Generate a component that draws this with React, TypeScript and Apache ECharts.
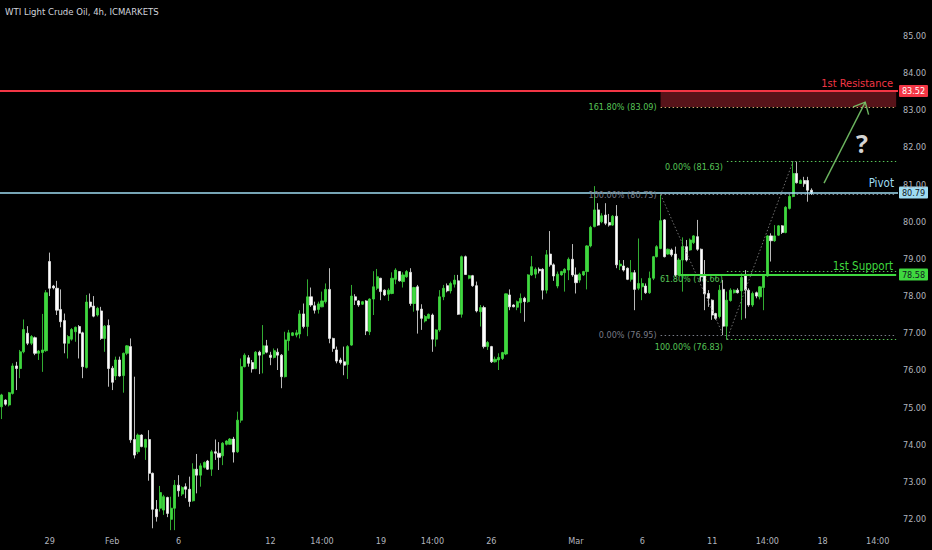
import { useEffect, useRef } from 'react';
import * as echarts from 'echarts';

// one row per 4h bar: [open, close, low, high]
const candles: number[][] = [
  [75.02, 75.34, 74.69, 75.37], [75.20, 75.09, 75.05, 75.22], [75.07, 75.40, 75.03, 75.42], [75.38, 76.12, 75.35, 76.19],
  [76.12, 76.05, 75.47, 76.23], [76.05, 76.50, 75.79, 76.55], [76.50, 77.10, 76.46, 77.37], [77.00, 76.73, 76.68, 77.19],
  [76.73, 76.91, 76.68, 76.95], [76.88, 76.46, 76.41, 76.91], [76.46, 76.52, 76.28, 76.55], [76.48, 76.55, 75.96, 77.52],
  [76.53, 78.09, 76.50, 78.16], [78.93, 78.21, 78.00, 79.17], [78.27, 78.22, 78.18, 78.30], [78.21, 77.62, 77.49, 78.41],
  [77.64, 77.31, 77.16, 78.18], [77.34, 76.73, 76.46, 77.53], [76.73, 76.91, 76.32, 76.95], [76.84, 77.10, 76.80, 77.14],
  [77.04, 77.16, 76.77, 77.18], [77.18, 77.00, 76.32, 77.22], [77.01, 76.10, 75.79, 77.04], [76.08, 77.84, 76.05, 78.03],
  [77.84, 77.71, 77.67, 78.07], [77.73, 77.46, 77.43, 78.00], [77.49, 77.67, 77.45, 77.71], [77.60, 76.86, 76.82, 77.71],
  [76.86, 77.19, 76.50, 77.22], [77.21, 76.05, 75.56, 77.37], [76.06, 75.68, 75.47, 76.12], [75.85, 76.28, 75.74, 76.37],
  [76.28, 75.85, 75.83, 76.37], [75.86, 76.46, 75.40, 76.48], [76.46, 76.66, 76.41, 76.68], [76.64, 74.13, 74.05, 76.86],
  [74.14, 73.72, 73.63, 75.83], [73.81, 74.26, 73.75, 74.30], [74.26, 73.95, 73.93, 74.28], [73.93, 74.14, 73.59, 74.16],
  [74.14, 73.23, 73.03, 74.39], [73.23, 72.26, 71.75, 73.25], [72.26, 72.06, 71.93, 72.51], [72.29, 72.71, 72.20, 72.89],
  [72.24, 72.60, 72.11, 72.65], [72.58, 72.15, 72.05, 72.60], [71.99, 72.29, 71.70, 72.60], [72.29, 72.91, 71.70, 73.05],
  [72.91, 72.76, 72.60, 73.18], [72.67, 72.85, 72.62, 72.88], [72.87, 72.80, 72.56, 72.96], [72.80, 72.47, 72.33, 73.14],
  [72.49, 73.34, 72.47, 73.50], [73.34, 73.18, 72.69, 73.75], [73.18, 73.43, 72.87, 73.50], [73.39, 73.52, 73.36, 73.55],
  [73.56, 73.34, 73.32, 73.59], [73.34, 73.81, 73.16, 73.86], [73.81, 73.77, 73.59, 74.14], [73.77, 73.66, 73.32, 74.07],
  [73.70, 74.04, 73.45, 74.07], [74.01, 74.10, 73.98, 74.12], [74.01, 74.15, 74.00, 74.18], [74.15, 73.80, 73.52, 74.21],
  [73.81, 74.66, 73.78, 74.89], [74.66, 76.10, 74.59, 76.32], [76.10, 76.41, 76.08, 76.46], [76.34, 76.19, 76.10, 76.41],
  [76.21, 76.04, 75.94, 76.28], [76.05, 76.49, 76.03, 76.52], [76.49, 76.41, 75.90, 76.53], [76.44, 76.66, 75.92, 77.22],
  [76.66, 76.49, 76.46, 76.82], [76.41, 76.35, 76.14, 76.50], [76.35, 76.53, 76.32, 76.59], [76.49, 76.41, 76.01, 76.59],
  [76.41, 75.83, 75.52, 76.44], [75.83, 76.82, 75.81, 77.04], [76.80, 77.01, 76.53, 77.09], [76.94, 77.01, 76.92, 77.03],
  [76.95, 77.01, 76.89, 77.09], [76.98, 77.52, 76.86, 77.62], [77.52, 77.18, 77.13, 77.80], [77.18, 77.98, 76.92, 78.45],
  [77.98, 77.76, 77.71, 78.23], [77.74, 77.62, 77.53, 77.85], [77.64, 77.79, 77.53, 77.85], [77.71, 77.87, 77.70, 78.12],
  [77.85, 78.18, 77.80, 78.34], [78.18, 76.86, 76.73, 78.75], [76.86, 76.59, 76.50, 76.88], [76.55, 76.25, 76.19, 76.64],
  [76.28, 76.21, 76.16, 76.34], [76.23, 76.14, 75.87, 76.64], [76.16, 76.64, 75.77, 76.68], [76.68, 78.00, 76.66, 78.30],
  [77.98, 77.89, 77.76, 78.05], [77.87, 77.76, 77.71, 77.89], [77.78, 77.85, 77.76, 77.87], [77.87, 77.06, 76.95, 77.89],
  [77.04, 77.92, 76.95, 77.94], [77.92, 78.25, 77.49, 78.67], [78.21, 78.52, 78.16, 78.73], [78.48, 78.12, 77.89, 78.49],
  [78.16, 78.03, 78.00, 78.18], [78.05, 78.16, 77.87, 78.21], [78.07, 78.48, 78.05, 78.64], [78.45, 78.70, 78.32, 78.75],
  [78.66, 78.41, 78.39, 78.67], [78.39, 78.57, 78.23, 78.64], [78.52, 78.66, 78.49, 78.70], [78.64, 77.80, 77.74, 78.75],
  [77.80, 78.23, 77.58, 78.25], [78.25, 77.62, 76.99, 78.30], [77.65, 77.40, 77.09, 77.78], [77.33, 77.45, 77.29, 77.49],
  [77.40, 77.51, 77.38, 77.53], [77.49, 76.84, 76.50, 77.53], [76.84, 77.09, 76.64, 77.11], [77.09, 77.98, 77.04, 78.16],
  [77.98, 78.21, 77.89, 78.30], [78.28, 78.14, 78.10, 78.34], [78.14, 78.34, 78.07, 78.39], [78.32, 78.43, 78.23, 78.57],
  [78.41, 77.51, 77.49, 78.57], [77.51, 79.06, 77.42, 79.09], [79.06, 78.58, 78.57, 79.09], [78.48, 78.55, 78.45, 78.57],
  [78.55, 78.28, 78.25, 78.57], [78.28, 77.60, 77.56, 78.39], [77.58, 77.69, 77.18, 77.76], [77.69, 76.64, 76.59, 77.74],
  [76.64, 76.75, 76.55, 76.79], [76.64, 76.23, 76.20, 76.66], [76.23, 76.30, 76.21, 76.37], [76.28, 76.35, 76.01, 76.46],
  [76.32, 76.48, 76.28, 76.50], [76.44, 78.06, 76.41, 78.07], [78.03, 77.71, 77.62, 78.18], [77.76, 77.71, 77.70, 77.78],
  [77.70, 77.85, 77.62, 77.88], [77.82, 77.94, 77.54, 78.07], [77.94, 77.85, 77.31, 77.98], [77.85, 78.57, 77.82, 78.59],
  [78.57, 78.79, 78.54, 79.08], [78.59, 78.72, 78.48, 78.77], [78.72, 78.68, 78.61, 78.77], [78.72, 78.16, 77.91, 78.75],
  [78.16, 79.11, 78.07, 79.24], [79.13, 78.84, 78.79, 79.75], [78.84, 78.54, 78.41, 78.88], [78.27, 78.59, 78.21, 78.66],
  [78.57, 78.66, 78.55, 78.68], [78.63, 78.72, 78.12, 78.75], [78.70, 78.99, 78.43, 79.04], [78.99, 78.57, 78.52, 79.40],
  [78.57, 78.36, 78.07, 78.77], [78.43, 78.59, 78.36, 78.63], [78.57, 78.66, 78.54, 78.68], [78.66, 79.35, 78.18, 79.37],
  [79.35, 79.85, 79.31, 79.89], [79.87, 80.32, 79.85, 80.96], [80.32, 79.91, 79.89, 80.50], [80.00, 80.16, 79.96, 80.23],
  [80.18, 79.96, 79.91, 80.50], [79.98, 79.91, 79.87, 80.21], [79.91, 80.15, 79.89, 80.18], [80.15, 78.84, 78.75, 80.45],
  [78.81, 78.86, 78.70, 78.97], [78.81, 78.70, 78.66, 78.97], [78.75, 78.45, 78.43, 78.77], [78.45, 78.63, 78.39, 78.97],
  [78.63, 78.18, 77.62, 78.70], [78.21, 78.34, 78.16, 79.55], [78.25, 78.34, 77.89, 78.48], [78.27, 78.09, 78.06, 78.34],
  [78.09, 78.48, 78.06, 78.66], [78.48, 79.06, 78.43, 79.08], [79.06, 79.33, 79.04, 79.37], [79.28, 80.03, 79.26, 80.73],
  [80.05, 79.06, 79.04, 80.07], [79.13, 79.26, 79.11, 79.28], [79.24, 79.11, 79.06, 79.28], [79.13, 78.57, 78.52, 79.33],
  [78.57, 78.97, 78.54, 79.02], [78.97, 79.33, 78.12, 79.58], [79.33, 78.97, 78.93, 79.51], [79.24, 79.51, 79.22, 79.55],
  [79.44, 79.62, 79.40, 79.64], [79.60, 79.26, 79.22, 80.05], [79.26, 78.52, 78.39, 79.28], [78.54, 78.06, 77.62, 78.97],
  [78.07, 77.94, 77.71, 78.16], [77.89, 77.49, 77.36, 77.91], [77.53, 77.40, 77.36, 77.55], [77.45, 78.16, 77.40, 78.30],
  [78.18, 77.19, 76.95, 78.43], [77.19, 77.89, 76.83, 78.12], [77.88, 78.16, 77.85, 78.21], [78.09, 78.16, 78.07, 78.18],
  [78.16, 78.09, 78.07, 78.21], [78.14, 78.50, 77.36, 78.61], [78.54, 78.16, 77.40, 78.70], [78.16, 77.76, 77.71, 78.21],
  [77.76, 78.07, 77.71, 78.12], [78.09, 78.00, 77.94, 78.12], [77.98, 78.25, 77.91, 78.27], [78.23, 78.54, 77.62, 78.57],
  [78.54, 79.62, 78.52, 79.64], [79.62, 79.49, 78.93, 79.69], [79.49, 79.62, 79.46, 79.91], [79.64, 79.89, 79.62, 79.91],
  [79.89, 79.71, 79.67, 79.91], [79.71, 80.39, 79.69, 80.42], [80.36, 80.68, 80.33, 80.72], [80.68, 81.30, 80.66, 81.63],
  [81.30, 81.05, 81.03, 81.62], [81.03, 81.11, 81.02, 81.14], [81.11, 81.02, 80.94, 81.21], [81.11, 80.85, 80.54, 81.21],
  [80.85, 80.76, 80.72, 80.90],
];

// bars + empty room on the right
const slotCount = 244;

const tickLabels: [number, string][] = [
  [13, '29'], [30, 'Feb'], [48, '6'], [73, '12'], [87, '14:00'], [103, '19'], [117, '14:00'],
  [133, '26'], [156, 'Mar'], [174, '6'], [193, '11'], [208, '14:00'], [223, '18'], [238, '14:00'],
];

const resistance = 83.52;
const pivot = 80.79;
const support = 78.58;
const supportStart = 184;

// first fib: swing high -> swing low, with its 161.8% extension
const fibAStart = 179;
const fibAEnd = 196;
const fibALevels: [string, number][] = [['100.00%', 80.73], ['0.00%', 76.95], ['161.80%', 83.09]];

// second fib: swing low -> latest high
const fibBStart = 197;
const fibBEnd = 215;
const fibBLevels: [string, number][] = [['0.00%', 81.63], ['61.80%', 78.66], ['100.00%', 76.83]];

const arrowPath: number[][] = [[223.4, 81.04], [234.6, 83.22]];
const questionAt = [233.7, 82.12];

const RED = '#f23645';
const BLUE = '#9fdcf2';
const GREEN = '#3fd83f';
const FIB_GREEN = '#57c457';
const GREY = '#787b86';
const FONT = '"Liberation Sans Narrow", "DejaVu Sans Condensed", sans-serif';

export default function App() {
  const ref = useRef<HTMLDivElement>(null);

  useEffect(() => {
    document.body.style.margin = '0';
    document.body.style.background = '#000';
    if (!ref.current) return;
    const chart = echarts.init(ref.current, null, { renderer: 'svg' });

    const tickMap: Record<number, string> = {};
    tickLabels.forEach(([i, t]) => (tickMap[i] = t));
    const last = slotCount - 1;

    const dotted = (color: string) => ({ color, width: 1, type: [1.5, 2.5] as number[] });
    const seg = (x0: number, y0: number, x1: number, y1: number, lineStyle: any) => [
      { coord: [x0, y0], lineStyle },
      { coord: [x1, y1] },
    ];

    chart.setOption({
      animation: false,
      backgroundColor: '#000',
      grid: { left: 0, right: 34, top: 36, bottom: 31 },
      xAxis: {
        type: 'category',
        data: Array.from({ length: slotCount }, (_, i) => String(i)),
        axisLine: { show: false },
        axisTick: { show: false },
        splitLine: { show: false },
        axisLabel: {
          interval: (i: number) => tickMap[i] !== undefined,
          formatter: (_v: string, i: number) => tickMap[i] ?? '',
          color: '#b2b5be',
          fontSize: 9,
          fontFamily: FONT,
          margin: 17,
        },
      },
      yAxis: {
        type: 'value',
        position: 'right',
        min: 72,
        max: 85,
        interval: 1,
        axisLine: { show: false },
        axisTick: { show: false },
        splitLine: { show: false },
        axisLabel: {
          formatter: (v: number) => v.toFixed(2),
          color: '#b2b5be',
          fontSize: 9,
          fontFamily: FONT,
          margin: 5,
        },
      },
      series: [
        {
          type: 'candlestick',
          data: candles,
          clip: false,
          barWidth: 2.6,
          itemStyle: {
            color: GREEN,
            color0: '#ffffff',
            borderColor: GREEN,
            borderColor0: '#e8e8e8',
            borderWidth: 0.8,
          },
          markArea: {
            silent: true,
            itemStyle: { color: 'rgba(242, 54, 69, 0.36)' },
            data: [[{ coord: [fibAStart, resistance] }, { coord: [last, fibALevels[2][1]] }]],
          },
          markLine: {
            silent: true,
            symbol: ['none', 'none'],
            label: { show: false },
            emphasis: { disabled: true },
            data: [
              { yAxis: resistance, lineStyle: { color: RED, width: 1.8, type: 'solid' } },
              { yAxis: pivot, lineStyle: { color: BLUE, width: 1.6, type: 'solid' } },
              seg(supportStart, support, last, support, { color: GREEN, width: 2.2, type: 'solid' }),
              seg(fibAStart, fibALevels[0][1], last, fibALevels[0][1], dotted(GREY)),
              seg(fibAStart, fibALevels[1][1], last, fibALevels[1][1], dotted(GREY)),
              seg(fibAStart, fibALevels[2][1], last, fibALevels[2][1], dotted('#d0a870')),
              seg(fibBStart, fibBLevels[0][1], last, fibBLevels[0][1], dotted(FIB_GREEN)),
              seg(fibBStart, fibBLevels[1][1], last, fibBLevels[1][1], dotted(FIB_GREEN)),
              seg(fibBStart, fibBLevels[2][1], last, fibBLevels[2][1], dotted(FIB_GREEN)),
              seg(fibAStart, fibALevels[0][1], fibAEnd, fibALevels[1][1], { color: '#8a8a8a', width: 0.8, type: [1.5, 2] }),
              seg(fibBStart, fibBLevels[2][1], fibBEnd, fibBLevels[0][1], { color: '#8a8a8a', width: 0.8, type: [1.5, 2] }),
            ],
          },
        },
      ],
    });

    const px = (k: number, p: number) => {
      const a = chart.convertToPixel({ gridIndex: 0 }, [0, p]) as number[];
      const b = chart.convertToPixel({ gridIndex: 0 }, [1, p]) as number[];
      return [a[0] + k * (b[0] - a[0]), a[1]];
    };
    const rightEdge = chart.getWidth() - 34;

    const text = (x: number, y: number, t: string, fill: string, size: number, align: string, vAlign = 'middle', extra: any = {}) => ({
      type: 'text',
      x,
      y,
      z: 100,
      silent: true,
      style: {
        text: t,
        fill,
        fontSize: size,
        fontFamily: FONT,
        align,
        textAlign: align,
        verticalAlign: vAlign,
        textVerticalAlign: vAlign,
        ...extra,
      },
    });

    const badge = (p: number, fill: string, color: string) => {
      const y = px(0, p)[1];
      return {
        type: 'group',
        z: 110,
        children: [
          { type: 'rect', shape: { x: rightEdge + 1, y: y - 6, width: 29, height: 12, r: 1 }, style: { fill } },
          text(rightEdge + 15.5, y + 0.5, p.toFixed(2), color, 9, 'center'),
        ],
      };
    };

    const fibLabel = (start: number, name: string, p: number, color: string, dy: number) => {
      const [x, y] = px(start, p);
      return text(x - 4, y + dy, `${name} (${p.toFixed(2)})`, color, 9, 'right');
    };

    // arrow shaft and open head
    const from = px(arrowPath[0][0], arrowPath[0][1]);
    const tip = px(arrowPath[1][0], arrowPath[1][1]);
    const dx = from[0] - tip[0];
    const dy = from[1] - tip[1];
    const len = Math.hypot(dx, dy);
    const ux = dx / len;
    const uy = dy / len;
    const arm = (deg: number) => {
      const r = (deg * Math.PI) / 180;
      return [tip[0] + 13 * (ux * Math.cos(r) - uy * Math.sin(r)), tip[1] + 13 * (ux * Math.sin(r) + uy * Math.cos(r))];
    };
    const arrowStyle = { stroke: 'rgba(120, 200, 105, 0.9)', lineWidth: 1.4, fill: 'none' };
    const q = px(questionAt[0], questionAt[1]);

    chart.setOption({
      graphic: [
        text(5, 11, 'WTI Light Crude Oil, 4h, ICMARKETS', '#d1d4dc', 9.5, 'left'),
        text(rightEdge - 5, px(0, resistance)[1] - 2, '1st Resistance', RED, 11, 'right', 'bottom'),
        text(rightEdge - 4, px(0, pivot)[1] - 3, 'Pivot', BLUE, 11.5, 'right', 'bottom'),
        text(rightEdge - 5, px(0, support)[1] - 3, '1st Support', GREEN, 11.5, 'right', 'bottom'),
        fibLabel(fibAStart, fibALevels[0][0], fibALevels[0][1], GREY, 0),
        fibLabel(fibAStart, fibALevels[1][0], fibALevels[1][1], GREY, 0),
        fibLabel(fibAStart, fibALevels[2][0], fibALevels[2][1], FIB_GREEN, 0),
        fibLabel(fibBStart, fibBLevels[0][0], fibBLevels[0][1], FIB_GREEN, 6),
        { ...fibLabel(fibBStart, fibBLevels[1][0], fibBLevels[1][1], FIB_GREEN, 7), z: 0 },
        fibLabel(fibBStart, fibBLevels[2][0], fibBLevels[2][1], FIB_GREEN, 7),
        {
          type: 'polyline',
          z: 100,
          silent: true,
          shape: { points: [from, tip] },
          style: arrowStyle,
        },
        {
          type: 'polyline',
          z: 100,
          silent: true,
          shape: { points: [arm(42), tip, arm(-42)] },
          style: arrowStyle,
        },
        text(q[0], q[1], '?', '#d4d4d4', 25, 'center', 'middle', { fontWeight: 'bold', fontFamily: '"Open Sans", sans-serif' }),
        badge(resistance, RED, '#ffffff'),
        badge(pivot, BLUE, '#131722'),
        badge(support, GREEN, '#131722'),
      ],
    });

    return () => {
      chart.dispose();
    };
  }, []);

  return <div ref={ref} style={{ width: 932, height: 550 }} />;
}
